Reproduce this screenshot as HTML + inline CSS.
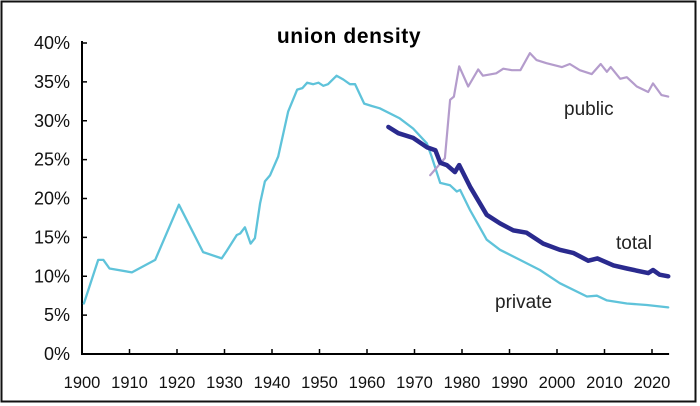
<!DOCTYPE html>
<html><head><meta charset="utf-8"><style>
body{margin:0;background:#fff;}
svg{display:block;font-family:"Liberation Sans",Arial,sans-serif;}
</style></head><body>
<svg id="chart" width="700" height="406" viewBox="0 0 700 406">
<rect x="1.5" y="1.5" width="694" height="400" fill="#fff" stroke="#111" stroke-width="2"/>
<text x="349" y="43" font-size="21" font-weight="bold" letter-spacing="0.6" text-anchor="middle">union density</text>
<g id="axes"></g>
<g id="series"></g>
<text x="564" y="115" font-size="19" fill="#222">public</text>
<text x="616" y="249" font-size="19" fill="#222">total</text>
<text x="495" y="308" font-size="19" fill="#222">private</text>
</svg>
<script>
const yTicks=[0,5,10,15,20,25,30,35,40];
const xTicks=[1900,1910,1920,1930,1940,1950,1960,1970,1980,1990,2000,2010,2020];
const privateYears=[1900.4,1903.4,1904.5,1905.8,1910.5,1915.4,1920.4,1925.5,1929.4,1930.5,1932.6,1933.3,1934.3,1935.5,1936.4,1937.5,1938.5,1939.6,1941.3,1943.4,1945.3,1946.4,1947.4,1948.7,1949.8,1950.8,1951.8,1953.6,1955,1956.4,1957.5,1959.4,1961,1962.7,1966.9,1969.7,1972.6,1973.6,1975.4,1977.5,1978.9,1979.6,1981.7,1985.2,1988,1992.2,1996.4,2000.6,2006.3,2008.4,2010.5,2014.7,2018.9,2023.4];
const privateVals=[6.5,12.1,12.1,11.0,10.5,12.1,19.2,13.1,12.3,13.3,15.3,15.5,16.3,14.2,14.9,19.4,22.2,23.0,25.4,31.2,34.0,34.2,34.9,34.7,34.9,34.5,34.7,35.8,35.3,34.7,34.7,32.2,31.9,31.6,30.3,29.0,27.1,25.4,22.0,21.7,20.9,21.1,18.5,14.7,13.4,12.1,10.8,9.1,7.4,7.5,6.9,6.5,6.3,6.0];
const totalYears=[1964.5,1966.6,1969.7,1972.6,1974.4,1975.4,1976.8,1978.5,1979.4,1981.7,1985.2,1988,1990.8,1993.6,1997.1,2000.6,2003.4,2006.6,2008.5,2011.9,2014.7,2019.2,2020.2,2021.6,2023.4];
const totalVals=[29.2,28.4,27.8,26.6,26.2,24.6,24.3,23.4,24.3,21.5,17.9,16.8,15.9,15.6,14.2,13.4,13.0,12.0,12.3,11.4,11.0,10.4,10.8,10.2,10.0];
const publicYears=[1973.3,1976.4,1977.5,1978.3,1979.4,1981.3,1983.4,1984.4,1987.2,1988.7,1990.5,1992.3,1994.3,1995.7,1997.8,2001,2002.7,2004.8,2007.3,2009.2,2010.5,2011.3,2013.3,2014.7,2016.8,2019.2,2020.2,2022,2023.4];
const publicVals=[23.0,25.2,32.7,33.1,37.0,34.4,36.6,35.8,36.1,36.7,36.5,36.5,38.7,37.8,37.4,36.9,37.3,36.5,36.0,37.3,36.3,36.9,35.4,35.6,34.4,33.7,34.8,33.3,33.1];

const X0=82,Y0=354;
function xs(yr){return X0+(yr-1900)*4.75;}
function ys(v){return Y0-v*7.775;}
const NS="http://www.w3.org/2000/svg";
const axes=document.getElementById('axes'),ser=document.getElementById('series');
function mk(tag,attrs,parent){const e=document.createElementNS(NS,tag);for(const k in attrs)e.setAttribute(k,attrs[k]);parent.appendChild(e);return e;}
const yl=mk('line',{x1:X0,y1:ys(40)-2,x2:X0,y2:Y0,stroke:'#000','stroke-width':2},axes);


const xl=mk('line',{x1:X0-1,y1:Y0,x2:xs(2023.6),y2:Y0,stroke:'#000','stroke-width':2},axes);


yTicks.forEach(v=>{
  const t=mk('line',{x1:X0,y1:ys(v),x2:X0+5,y2:ys(v),stroke:'#000','stroke-width':1.5},axes);
  
  
  const l=mk('text',{x:70,y:ys(v)+6,'font-size':18,'text-anchor':'end',fill:'#111'},axes);
  l.textContent=v+'%';
  
  
});
xTicks.forEach(yr=>{
  if(yr>1900){const t=mk('line',{x1:xs(yr),y1:Y0,x2:xs(yr),y2:Y0-5,stroke:'#000','stroke-width':1.5},axes);
  
  }
  const l=mk('text',{x:xs(yr),y:388,'font-size':16.5,'text-anchor':'middle',fill:'#111'},axes);
  l.textContent=yr;
  
  
});
function line(yrs,vals,color,w,name){
  const d=yrs.map((y,i)=>(i?'L':'M')+xs(y).toFixed(1)+','+ys(vals[i]).toFixed(1)).join('');
  const p=mk('path',{d:d,fill:'none',stroke:color,'stroke-width':w,'stroke-linejoin':'round','stroke-linecap':'round'},ser);
  
  
}
line(privateYears,privateVals,'#5fc3da',2.3,'private-line');
line(publicYears,publicVals,'#b49ccc',2.2,'public-line');
line(totalYears,totalVals,'#2a2a8e',4.5,'total-line');
</script>
</body></html>
